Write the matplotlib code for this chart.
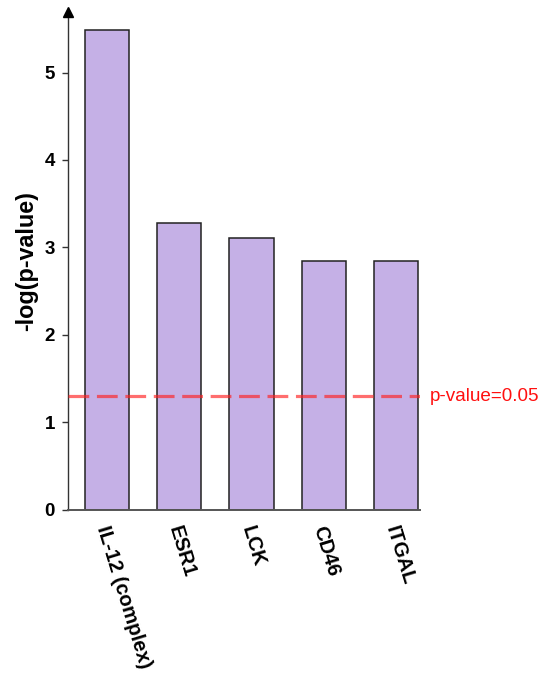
import matplotlib
matplotlib.use("Agg")
import matplotlib.pyplot as plt
from matplotlib.transforms import ScaledTranslation

categories = ["IL-12 (complex)", "ESR1", "LCK", "CD46", "ITGAL"]
values = [5.49, 3.28, 3.11, 2.84, 2.84]
threshold = 1.30
threshold_label = "p-value=0.05"
yticks = [0, 1, 2, 3, 4, 5]

plt.rcParams['font.family'] = ['Liberation Sans', 'DejaVu Sans']

fig = plt.figure(figsize=(5.42, 6.77), dpi=100)
ax = fig.add_axes([0.126, 0.247, 0.648, 0.735])

x = list(range(len(categories)))
ax.bar(x, values, width=0.61, color='#C5B0E6', edgecolor='#222222', linewidth=1.1, zorder=2)
ax.axhline(threshold, color='#FF2020', alpha=0.65, linewidth=2.3, dashes=(6.5, 2.4), zorder=3)

ax.set_xlim(-0.536, 4.325)
ax.set_ylim(0, 5.69)
ax.set_yticks(yticks)
ax.set_yticklabels([str(t) for t in yticks], fontsize=13.5, fontweight='bold')
ax.set_xticks(x)
ax.set_xticklabels(categories, fontsize=14.6, fontweight='bold', rotation=-73,
                   ha='left', va='top', rotation_mode='anchor')
ax.tick_params(axis='x', length=0, pad=10)
ax.tick_params(axis='y', length=4.5, width=1, direction='out', color='#333333', pad=5)
shift = ScaledTranslation(4 / 100, 0, fig.dpi_scale_trans)
for lbl in ax.get_xticklabels():
    lbl.set_transform(lbl.get_transform() + shift)

for s in ['top', 'right']:
    ax.spines[s].set_visible(False)
ax.spines['left'].set_color('#333333')
ax.spines['bottom'].set_color('#555555')
ax.spines['left'].set_linewidth(1.0)
ax.spines['bottom'].set_linewidth(1.4)

# arrow at top of y-axis
ax.plot([0], [1], marker='^', markersize=7, color='black', transform=ax.transAxes,
        clip_on=False, zorder=5)

ax.set_ylabel('-log(p-value)', fontsize=16.8, fontweight='bold', labelpad=5)

ax.text(1.03, threshold, threshold_label, transform=ax.get_yaxis_transform(),
        color='#FF1010', fontsize=13.6, va='center', ha='left')

fig.savefig('out.png', dpi=100)
